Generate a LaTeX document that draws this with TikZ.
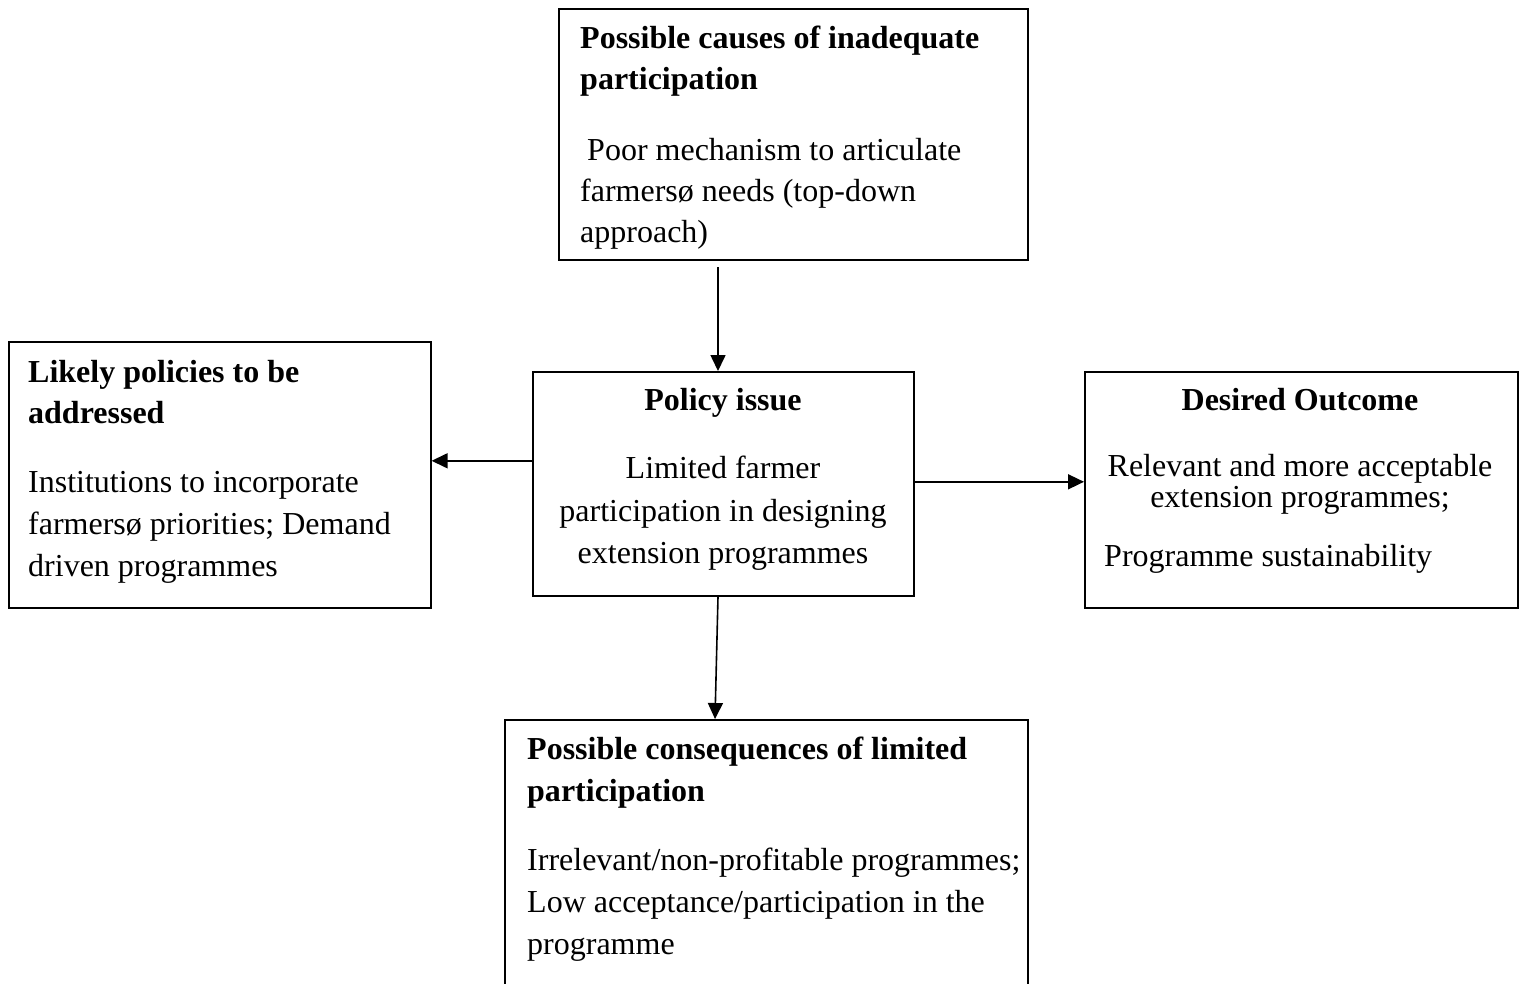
\documentclass[tikz,border=0pt]{standalone}
\usepackage{fontspec}
\setmainfont{Liberation Serif}
\usetikzlibrary{arrows.meta}
\tikzset{
  box/.style={draw, line width=1.6pt, rectangle, anchor=north west, inner sep=0pt},
  txt/.style={anchor=base west, inner sep=0pt, font=\fontsize{32}{38}\selectfont},
  ttl/.style={anchor=base west, inner sep=0pt, font=\fontsize{32}{38}\selectfont\bfseries},
  ctxt/.style={txt, anchor=base},
  cttl/.style={ttl, anchor=base},
  arr/.style={line width=1.6pt, -{Triangle[length=16pt,width=15pt]}}
}
\begin{document}
\begin{tikzpicture}[x=1pt,y=-1pt]
\clip (0,0) rectangle (1522,983);
\fill[white] (0,0) rectangle (1522,983);
% boxes
\node[box, minimum width=469pt, minimum height=251pt] (top) at (558,8) {};
\node[box, minimum width=422pt, minimum height=266pt] (lft) at (8,341) {};
\node[box, minimum width=381pt, minimum height=224pt] (cen) at (532,371) {};
\node[box, minimum width=433pt, minimum height=236pt] (rgt) at (1084,371) {};
\node[box, minimum width=523pt, minimum height=300pt] (bot) at (504,719) {};
% top box text
\node[ttl] (t1) at (580,48) {Possible causes of inadequate};
\node[ttl] (t2) at (580,89) {participation};
\node[txt] (t3) at (587,160) {Poor mechanism to articulate};
\node[txt] (t4) at (580,201) {farmersø needs (top-down};
\node[txt] (t5) at (580,242) {approach)};
% left box text
\node[ttl] (l1) at (28,382) {Likely policies to be};
\node[ttl] (l2) at (28,423) {addressed};
\node[txt] (l3) at (28,492) {Institutions to incorporate};
\node[txt] (l4) at (28,534) {farmersø priorities; Demand};
\node[txt] (l5) at (28,576) {driven programmes};
% center box text
\node[cttl] (c1) at (723,410) {Policy issue};
\node[ctxt] (c2) at (723,478) {Limited farmer};
\node[ctxt] (c3) at (723,521) {participation in designing};
\node[ctxt] (c4) at (723,563) {extension programmes};
% right box text
\node[cttl] (r1) at (1300,410) {Desired Outcome};
\node[ctxt] (r2) at (1300,476) {Relevant and more acceptable};
\node[ctxt] (r3) at (1300,507) {extension programmes;};
\node[txt] (r4) at (1104,566) {Programme sustainability};
% bottom box text
\node[ttl] (b1) at (527,759) {Possible consequences of limited};
\node[ttl] (b2) at (527,801) {participation};
\node[txt] (b3) at (527,870) {Irrelevant/non-profitable programmes;};
\node[txt] (b4) at (527,912) {Low acceptance/participation in the};
\node[txt] (b5) at (527,954) {programme};
% connectors
\coordinate (ta) at (718,267);
\draw[arr] (ta) -- (ta |- cen.north);
\coordinate (la) at ([yshift=23pt]cen.west);
\draw[arr] (la) -- (la -| lft.east);
\coordinate (ra) at ([yshift=2pt]cen.east);
\draw[arr] (ra) -- (ra -| rgt.west);
\coordinate (bx1) at (718,0);
\coordinate (bx2) at (715,0);
\draw[arr] (cen.south -| bx1) -- (bot.north -| bx2);
\end{tikzpicture}
\end{document}
